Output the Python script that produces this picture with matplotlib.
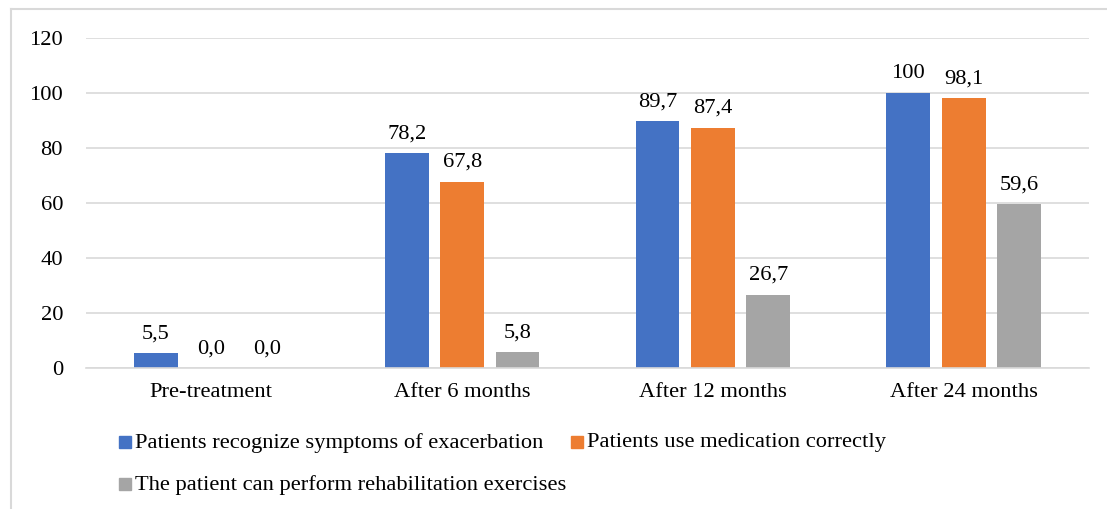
import numpy as np
import matplotlib.pyplot as plt
from matplotlib.patches import Rectangle
from matplotlib.lines import Line2D

plt.rcParams['font.family'] = ['Liberation Serif', 'DejaVu Serif']

periods = ['Pre-treatment', 'After 6 months', 'After 12 months', 'After 24 months']
series_names = ['Patients recognize symptoms of exacerbation',
                'Patients use medication correctly',
                'The patient can perform rehabilitation exercises']
recognize = [5.5, 78.2, 89.7, 100]
medication = [0.0, 67.8, 87.4, 98.1]
rehab = [0.0, 5.8, 26.7, 59.6]
recognize_lbl = ['5,5', '78,2', '89,7', '100']
medication_lbl = ['0,0', '67,8', '87,4', '98,1']
rehab_lbl = ['0,0', '5,8', '26,7', '59,6']
colors = ['#4472C4', '#ED7D31', '#A5A5A5']
fs = 16.2

W, H = 1107, 509
fig = plt.figure(figsize=(W / 100, H / 100), dpi=100)
# plot area in pixel coords: x 86..1089, y 38..368
ax = fig.add_axes([86 / W, 1 - 368 / H, (1089 - 86) / W, (368 - 38) / H])

x = np.arange(len(periods))
width = 0.175
step = 0.221
series = [(recognize, recognize_lbl), (medication, medication_lbl), (rehab, rehab_lbl)]
for i, (vals, lbls) in enumerate(series):
    bars = ax.bar(x + (i - 1) * step, vals, width, color=colors[i], zorder=2)
    for b, v, t in zip(bars, vals, lbls):
        ax.annotate(t, (b.get_x() + b.get_width() / 2, v), xytext=(0, 7),
                    textcoords='offset points', ha='center', va='bottom',
                    fontsize=fs, color='#000000')

ax.set_xlim(-0.5, 3.5)
ax.set_ylim(0, 120)
ax.set_yticks(np.arange(0, 121, 20))
ax.set_xticks(x)
ax.set_xticklabels(periods)
ax.tick_params(axis='both', length=0, labelsize=fs, colors='#000000')
ax.tick_params(axis='y', pad=16.5)
ax.tick_params(axis='x', pad=11)
ax.grid(axis='y', color='#D9D9D9', linewidth=1.2, zorder=0)
for s in ['top', 'right', 'left']:
    ax.spines[s].set_visible(False)
ax.spines['bottom'].set_color('#D9D9D9')
ax.spines['bottom'].set_linewidth(1.2)

# legend laid out in two rows
entries = [(0, 119, 441), (1, 571, 441), (2, 119, 483)]
for idx, px, py in entries:
    fig.patches.append(Rectangle((px / W, 1 - (py + 7) / H), 12 / W, 12 / H,
                                 transform=fig.transFigure, color=colors[idx]))
    fig.text((px + 16) / W, 1 - (py + 2) / H, series_names[idx], fontsize=fs,
             va='center', ha='left')

# chart frame
fig.lines.append(Line2D([10.5 / W, 1], [1 - 8.5 / H, 1 - 8.5 / H],
                        transform=fig.transFigure, color='#D9D9D9', linewidth=1.5))
fig.lines.append(Line2D([10.5 / W, 10.5 / W], [0, 1 - 8.5 / H],
                        transform=fig.transFigure, color='#D9D9D9', linewidth=1.5))

fig.savefig('out.png', dpi=100)
